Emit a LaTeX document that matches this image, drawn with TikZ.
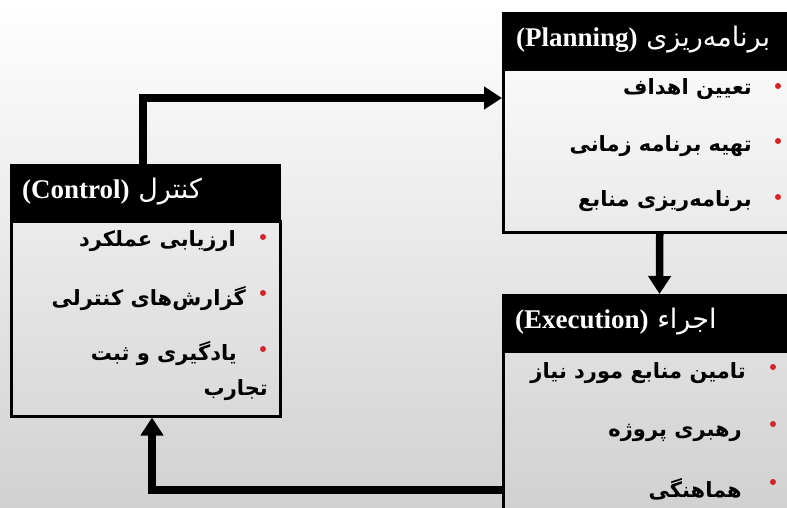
\documentclass[tikz,border=0pt]{standalone}
\usepackage{fontspec}
\setmainfont{Liberation Serif}
\newfontfamily\persian[Script=Arabic]{DejaVu Sans}
\TeXXeTstate=1
\usetikzlibrary{arrows.meta, positioning, calc, shadings}
\definecolor{BulletRed}{RGB}{215,35,40}
\tikzstyle{arrow} = [line width=7.5pt, black, -{Triangle[length=18pt,width=22pt]}]
\tikzstyle{head} = [draw=black, fill=black, line width=2pt, anchor=north west, inner sep=0pt, minimum height=54pt]
\tikzstyle{body} = [draw=black, line width=2.5pt, anchor=north west, inner sep=0pt]
\tikzstyle{title} = [anchor=west, white, inner sep=0pt, font=\fontsize{27}{30}\selectfont]
\tikzstyle{item} = [anchor=east, inner sep=0pt, font=\persian\bfseries\fontsize{21}{24}\selectfont]
\tikzstyle{bullet} = [circle, fill=BulletRed, inner sep=0pt, minimum size=6pt]

\begin{document}
\begin{tikzpicture}[x=1pt, y=-1pt]
    \useasboundingbox (0,0) rectangle (787,507);
    \clip (0,0) rectangle (787,507);
    \shade[top color=white, bottom color=black!18] (0,0) rectangle (787,507);

    % planning
    \node[head, minimum width=313pt] (planhead) at (502,12) {};
    \node[body, minimum width=313pt, minimum height=163pt] (planbody) at (planhead.south west) {};
    \node[title] (plantitle) at ([xshift=14pt]planhead.west)
        {\persian\beginR برنامه‌ریزی \beginL{\rmfamily\bfseries(Planning)}\endL\endR};
    \node[item] (plan1) at (752,89) {\beginR تعیین اهداف\endR};
    \node[item] (plan2) at (752,146) {\beginR تهیه برنامه زمانی\endR};
    \node[item] (plan3) at (752,201) {\beginR برنامه‌ریزی منابع\endR};
    \foreach \y in {86,141,197}
        \node[bullet] (planb\y) at (778,\y) {};

    % control
    \node[head, minimum width=269pt] (ctrlhead) at (10,164) {};
    \node[body, minimum width=269pt, minimum height=195pt] (ctrlbody) at (ctrlhead.south west) {};
    \node[title] (ctrltitle) at ([xshift=12pt]ctrlhead.west)
        {\persian\beginR کنترل \beginL{\rmfamily\bfseries(Control)}\endL\endR};
    \node[item] (ctrl1) at (236,241) {\beginR ارزیابی عملکرد\endR};
    \node[item] (ctrl2) at (246,299) {\beginR گزارش‌های کنترلی\endR};
    \node[item] (ctrl3) at (237,354) {\beginR یادگیری و ثبت\endR};
    \node[item] (ctrl4) at (268,390) {\beginR تجارب\endR};
    \foreach \y in {237,293,349}
        \node[bullet] (ctrlb\y) at (263,\y) {};

    % execution
    \node[head, minimum width=313pt] (exechead) at (502,294) {};
    \node[body, minimum width=313pt, minimum height=200pt] (execbody) at (exechead.south west) {};
    \node[title] (exectitle) at ([xshift=13pt]exechead.west)
        {\persian\beginR اجراء \beginL{\rmfamily\bfseries(Execution)}\endL\endR};
    \node[item] (exec1) at (746,373) {\beginR تامین منابع مورد نیاز\endR};
    \node[item] (exec2) at (742,433) {\beginR رهبری پروژه\endR};
    \node[item] (exec3) at (742,489) {\beginR هماهنگی\endR};
    \foreach \y in {367,424,482}
        \node[bullet] (execb\y) at (773,\y) {};

    \draw[arrow] ([xshift=133pt]ctrlhead.north west) |- ([yshift=-30pt]planbody.north west);
    \draw[arrow] (planbody.south) -- (exechead.north);
    \draw[arrow] ([yshift=-140pt]execbody.north west) -| ([xshift=142pt]ctrlbody.south west);
\end{tikzpicture}
\end{document}
